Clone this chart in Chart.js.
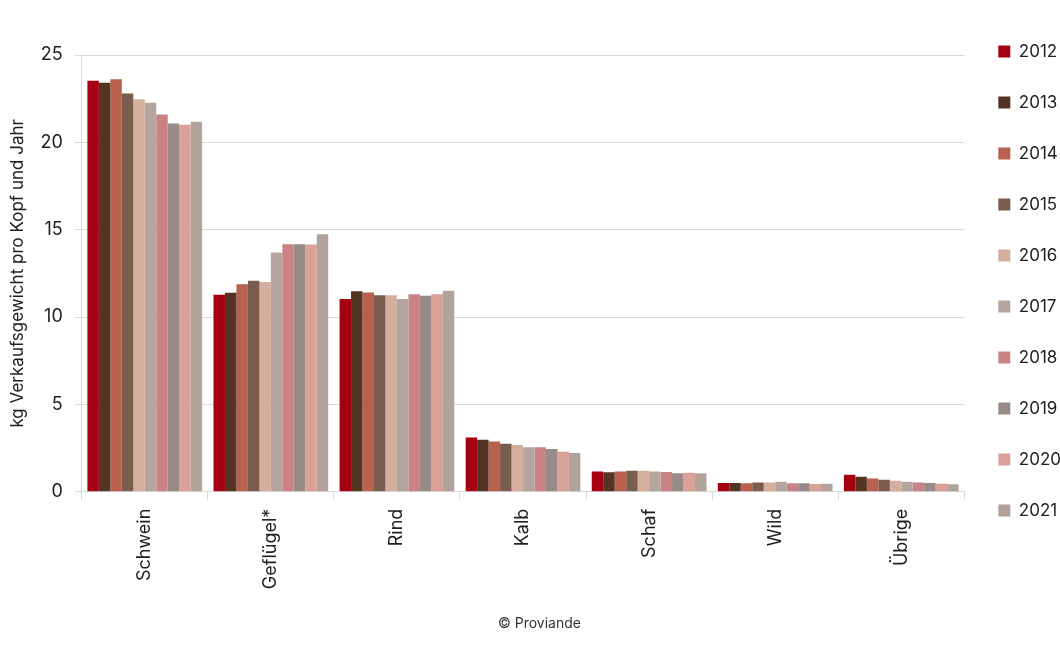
<!DOCTYPE html>
<html>
<head>
<meta charset="utf-8">
<script src="https://cdn.jsdelivr.net/npm/chart.js@4"></script>
<style>
  html, body { margin: 0; padding: 0; background: #fff; overflow: hidden; }
  #wrap { width: 1071px; height: 662px; position: relative; }
</style>
</head>
<body>
<div id="wrap"><canvas id="chart"></canvas></div>
<script>
// Kategorien und Jahreswerte (kg pro Kopf)
const categories = ['Schwein', 'Geflügel*', 'Rind', 'Kalb', 'Schaf', 'Wild', 'Übrige'];
const years = ['2012', '2013', '2014', '2015', '2016', '2017', '2018', '2019', '2020', '2021'];

const values2012 = [23.53, 11.28, 11.03, 3.10, 1.16, 0.50, 0.97];
const values2013 = [23.41, 11.39, 11.47, 2.98, 1.11, 0.50, 0.86];
const values2014 = [23.61, 11.87, 11.41, 2.87, 1.16, 0.48, 0.75];
const values2015 = [22.80, 12.08, 11.24, 2.75, 1.20, 0.53, 0.69];
const values2016 = [22.46, 12.00, 11.24, 2.68, 1.20, 0.52, 0.63];
const values2017 = [22.27, 13.70, 11.03, 2.54, 1.15, 0.57, 0.57];
const values2018 = [21.60, 14.16, 11.31, 2.54, 1.13, 0.48, 0.53];
const values2019 = [21.08, 14.16, 11.22, 2.45, 1.05, 0.48, 0.50];
const values2020 = [21.00, 14.15, 11.30, 2.29, 1.09, 0.44, 0.46];
const values2021 = [21.18, 14.74, 11.51, 2.22, 1.05, 0.46, 0.42];

const yTicks = [0, 5, 10, 15, 20, 25];

const seriesValues = [values2012, values2013, values2014, values2015, values2016,
                      values2017, values2018, values2019, values2020, values2021];
const seriesColors = ['#a50012', '#553322', '#b9604f', '#7b5d50', '#d5af9d',
                      '#b5a59f', '#ca8285', '#988a86', '#daa199', '#b1a29c'];

const fontFamily = 'Inter, "Noto Sans", sans-serif';
const textColor = '#1f1f1f';
const gridColor = '#d9d9d9';

const datasets = years.map((year, i) => ({
    label: year,
    data: seriesValues[i],
    backgroundColor: seriesColors[i],
    borderWidth: 0,
    categoryPercentage: 0.91,
    barPercentage: 1.0
}));

new Chart(document.getElementById('chart'), {
    type: 'bar',
    data: { labels: categories, datasets: datasets },
    options: {
        responsive: true,
        maintainAspectRatio: false,
        animation: false,
        layout: { padding: { top: 9, left: 8, right: 0, bottom: 0 } },
        plugins: {
            tooltip: { enabled: false },
            legend: {
                position: 'right',
                align: 'start',
                labels: {
                    boxWidth: 12,
                    boxHeight: 12,
                    padding: 34,
                    color: textColor,
                    font: { family: fontFamily, size: 17 }
                }
            },
            title: {
                display: true,
                position: 'top',
                fullSize: false,
                text: '',
                font: { size: 10 },
                padding: { top: 20, bottom: 14 }
            },
            subtitle: {
                display: true,
                position: 'bottom',
                text: '© Proviande',
                color: '#333',
                font: { family: fontFamily, size: 14 },
                padding: { top: 17, bottom: 30 }
            }
        },
        scales: {
            x: {
                grid: {
                    offset: true,
                    drawOnChartArea: false,
                    drawTicks: true,
                    tickLength: 8,
                    color: gridColor
                },
                border: { color: gridColor },
                ticks: {
                    color: textColor,
                    font: { family: fontFamily, size: 18 },
                    minRotation: 90,
                    maxRotation: 90,
                    padding: 9
                }
            },
            y: {
                min: 0,
                max: 25,
                afterBuildTicks: axis => { axis.ticks = yTicks.map(v => ({ value: v })); },
                grid: { color: gridColor, tickLength: 7 },
                border: { color: gridColor },
                ticks: {
                    color: textColor,
                    font: { family: fontFamily, size: 18 },
                    padding: 12
                },
                title: {
                    display: true,
                    text: 'kg Verkaufsgewicht pro Kopf und Jahr',
                    color: textColor,
                    font: { family: fontFamily, size: 17 },
                    padding: { top: 0, bottom: 0 }
                }
            }
        }
    }
});
</script>
</body>
</html>
